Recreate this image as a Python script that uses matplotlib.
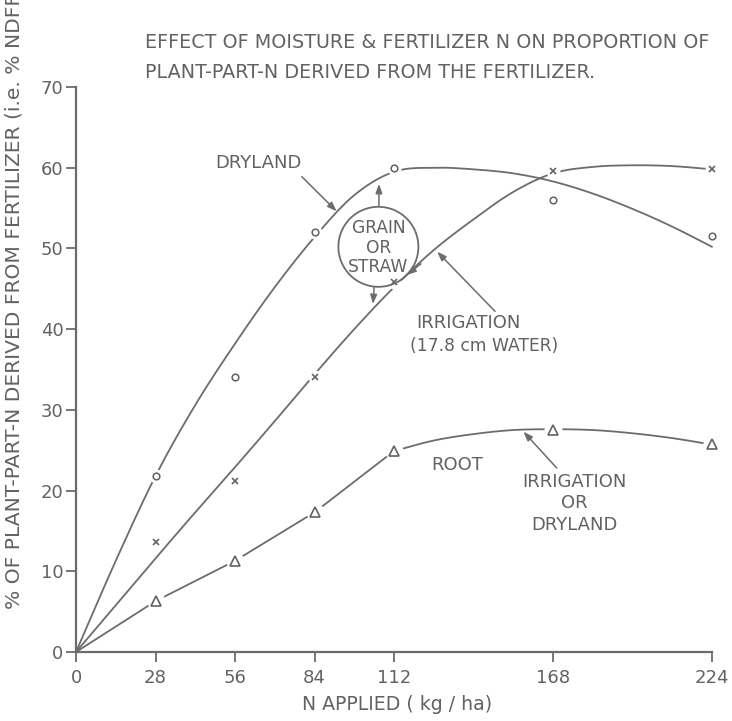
import numpy as np
import matplotlib
matplotlib.use("Agg")
import matplotlib.pyplot as plt
from matplotlib.patches import Ellipse

# Measured points (N applied, kg/ha) and % NDFF
n_applied = [28, 56, 84, 112, 168, 224]
dryland_pts = [21.8, 34.1, 52.0, 60.0, 56.0, 51.5]
irrigation_pts = [13.6, 21.2, 34.1, 45.9, 59.6, 59.9]
root_pts = [6.3, 11.3, 17.3, 24.9, 27.5, 25.8]

# Hand-fitted response curves
curve_x = [0, 14, 28, 42, 56, 70, 84, 98, 112, 126, 140, 154, 168, 182, 196, 210, 224]
dryland_curve = [0, 11.3, 21.8, 30.6, 38.2, 45.2, 51.4, 56.6, 59.5, 60.0, 59.8, 59.3, 58.3,
                 56.8, 54.9, 52.7, 50.2]
irrigation_curve = [0, 5.8, 11.6, 17.3, 22.9, 28.6, 34.4, 40.0, 45.2, 49.8, 53.6, 57.0, 59.3,
                    60.1, 60.3, 60.2, 59.8]
# root: straight runs between the low-rate points, then a fitted arc
root_line_x = [0, 28, 56, 84, 112]
root_line = [0, 6.3, 11.3, 17.3, 24.9]
root_arc_x = [112, 126, 140, 154, 168, 182, 196, 210, 224]
root_arc = [24.9, 26.2, 27.0, 27.5, 27.6, 27.5, 27.1, 26.5, 25.7]

x_ticks = [0, 28, 56, 84, 112, 168, 224]
y_ticks = [0, 10, 20, 30, 40, 50, 60, 70]

INK = "#626262"
LINE = "#6c6c6c"
FONT = "DejaVu Sans"


def smooth(xk, yk, n=16):
    """Catmull-Rom path through the curve knots."""
    p = np.column_stack([xk, yk]).astype(float)
    p = np.vstack([2 * p[0] - p[1], p, 2 * p[-1] - p[-2]])
    out = []
    t = np.linspace(0, 1, n, endpoint=False)[:, None]
    for i in range(1, len(p) - 2):
        p0, p1, p2, p3 = p[i - 1], p[i], p[i + 1], p[i + 2]
        seg = 0.5 * (2 * p1 + (-p0 + p2) * t + (2 * p0 - 5 * p1 + 4 * p2 - p3) * t ** 2
                     + (-p0 + 3 * p1 - 3 * p2 + p3) * t ** 3)
        out.append(seg)
    out.append(p[-2][None, :])
    out = np.vstack(out)
    return out[:, 0], out[:, 1]


fig = plt.figure(figsize=(7.32, 7.21), dpi=100)
fig.patch.set_facecolor("white")
ax = fig.add_axes([76 / 732, 1 - 652 / 721, 636 / 732, 565 / 721])
ax.set_xlim(0, 224)
ax.set_ylim(0, 70)

lkw = dict(color=LINE, lw=1.3, zorder=2, clip_on=False, solid_capstyle="round")
for cx, cy in [(curve_x, dryland_curve), (curve_x, irrigation_curve), (root_arc_x, root_arc)]:
    sx, sy = smooth(cx, cy)
    ax.plot(sx, sy, **lkw)
ax.plot(root_line_x, root_line, **lkw)

# white halos break the lines around the symbols
for pts, hs in [(dryland_pts, 10), (irrigation_pts, 10), (root_pts, 13)]:
    ax.plot(n_applied, pts, "o", ms=hs, color="white", mec="none", zorder=3, clip_on=False)
ax.plot(n_applied, dryland_pts, "o", ms=4.8, mfc="white", mec=INK, mew=1.1, zorder=4, clip_on=False)
ax.plot(n_applied, irrigation_pts, "x", ms=5, mec=INK, mew=1.2, zorder=4, clip_on=False)
ax.plot(n_applied, root_pts, "^", ms=6.5, mfc="white", mec=INK, mew=1.2, zorder=4, clip_on=False)

# axes
for s in ["top", "right"]:
    ax.spines[s].set_visible(False)
for s in ["left", "bottom"]:
    ax.spines[s].set_color(LINE)
    ax.spines[s].set_linewidth(1.6)
ax.spines["left"].set_bounds(0, 70)
ax.spines["bottom"].set_bounds(0, 224)
ax.set_xticks(x_ticks)
ax.set_xticklabels([str(v) for v in x_ticks])
ax.set_yticks(y_ticks)
ax.set_yticklabels([str(v) for v in y_ticks])
ax.tick_params(axis="both", direction="out", length=7, width=1.3, color=LINE,
               labelcolor=INK, labelsize=13)
ax.tick_params(axis="y", pad=2)
ax.tick_params(axis="x", pad=5)
for lbl in ax.get_xticklabels() + ax.get_yticklabels():
    lbl.set_family(FONT)

tkw = dict(color=INK, family=FONT, fontsize=13)
akw = dict(arrowstyle="-|>,head_length=0.55,head_width=0.2", color=LINE, lw=1.1,
           shrinkA=0, shrinkB=0)

# title and axis labels
fig.text(145 / 732, 1 - 43 / 721, "EFFECT OF MOISTURE & FERTILIZER N ON PROPORTION OF",
         ha="left", va="center", color=INK, family=FONT, fontsize=13.8)
fig.text(145 / 732, 1 - 72 / 721, "PLANT-PART-N DERIVED FROM THE FERTILIZER.",
         ha="left", va="center", color=INK, family=FONT, fontsize=13.8)
fig.text(14 / 732, 1 - 609 / 721, "% OF PLANT-PART-N DERIVED FROM FERTILIZER (i.e. % NDFF)",
         rotation=90, ha="center", va="bottom", color=INK, family=FONT, fontsize=14.6)
fig.text(397 / 732, 1 - 705 / 721, "N APPLIED ( kg / ha)", ha="center", va="center",
         color=INK, family=FONT, fontsize=13.6)

# curve labels
ax.text(64.1, 60.6, "DRYLAND", ha="center", va="center", **tkw)
ax.annotate("", xy=(91.8, 54.6), xytext=(79.5, 58.9), arrowprops=akw)

ax.add_patch(Ellipse((106.5, 50.2), 80 / 2.839, 80 / 8.071, fill=False, ec=LINE, lw=1.3, zorder=5))
skw = dict(color=INK, family=FONT, fontsize=12.3, ha="center", va="center")
ax.text(106.5, 52.5, "GRAIN", **skw)
ax.text(106.5, 50.1, "OR", **skw)
ax.text(106.5, 47.7, "STRAW", **skw)
ax.annotate("", xy=(106.7, 58.0), xytext=(106.7, 55.3), arrowprops=akw)
ax.annotate("", xy=(104.6, 43.1), xytext=(105.0, 45.2), arrowprops=akw)
ax.annotate("", xy=(116.5, 46.7), xytext=(121.5, 48.1), arrowprops=akw)

ax.text(120.0, 40.8, "IRRIGATION", ha="left", va="center", **tkw)
ax.text(117.6, 37.9, "(17.8 cm WATER)", ha="left", va="center", color=INK, family=FONT,
        fontsize=12.3)
ax.annotate("", xy=(127.2, 49.6), xytext=(147.6, 42.2), arrowprops=akw)

ax.text(134.1, 23.2, "ROOT", ha="center", va="center", **tkw)
ax.text(175.4, 21.1, "IRRIGATION", ha="center", va="center", **tkw)
ax.text(175.4, 18.4, "OR", ha="center", va="center", **tkw)
ax.text(175.4, 15.7, "DRYLAND", ha="center", va="center", **tkw)
ax.annotate("", xy=(157.6, 27.3), xytext=(169.3, 22.8), arrowprops=akw)

fig.savefig("out.png", dpi=100, facecolor="white")
